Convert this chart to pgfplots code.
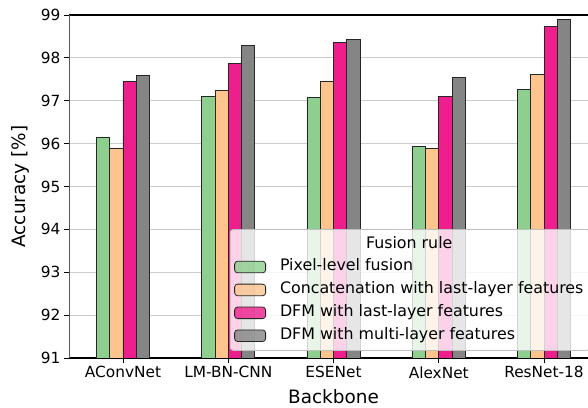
\documentclass[border=0pt]{standalone}
\usepackage{pgfplots}
\usepackage{pgfplotstable}
\pgfplotsset{compat=1.18}
\usepackage{fontspec}
\setmainfont{DejaVu Sans}
\definecolor{cgreen}{RGB}{142,206,142}
\definecolor{corange}{RGB}{253,196,142}
\definecolor{cpink}{RGB}{238,30,140}
\definecolor{cgray}{RGB}{133,133,133}
\definecolor{cgrid}{RGB}{205,205,205}
\pgfplotstableread{
x pixel concat dfmlast dfmmulti
0 96.15 95.88 97.44 97.58
1 97.10 97.23 97.87 98.28
2 97.07 97.44 98.36 98.44
3 95.94 95.88 97.10 97.54
4 97.27 97.62 98.73 98.89
}\datatable
\begin{document}
\begin{tikzpicture}
\begin{axis}[
  name=ax,
  scale only axis,
  width=529bp, height=343bp,
  xmin=-0.513, xmax=4.513,
  ymin=91, ymax=99,
  ytick={91,92,...,99},
  xtick=data,
  xticklabels={AConvNet,LM-BN-CNN,ESENet,AlexNet,ResNet-18},
  xtick pos=bottom, ytick pos=left,
  tick align=outside,
  major tick length=5bp,
  tick style={black, line width=0.8bp},
  separate axis lines,
  x axis line style={black, line width=1.1bp},
  y axis line style={black!65, line width=0.9bp},
  ymajorgrids,
  grid style={cgrid, line width=0.9bp},
  /pgf/number format/assume math mode=true,
  ticklabel style={font=\fontsize{15.4}{18}\selectfont},
  xlabel={Backbone},
  ylabel={Accuracy [\%]},
  label style={font=\fontsize{18.5}{22}\selectfont},
  ylabel style={yshift=5bp},
  xlabel style={yshift=-4bp},
  ybar, bar width=0.126,
  every axis plot/.append style={draw=black!85, line width=0.8bp},
  legend image code/.code={\draw[#1] (0bp,-5.8bp) rectangle (31bp,5.8bp);},
  legend cell align=left,
  legend style={
    at={(axis description cs:0.304,0.376)}, anchor=north west,
    draw=black!25, line width=0.8bp, rounded corners=3bp,
    fill=white, fill opacity=0.8, text opacity=1,
    font=\fontsize{15.9}{19}\selectfont,
    inner xsep=4bp, inner ysep=5bp,
    row sep=3.5bp, column sep=12bp,
    nodes={text height=11.6bp, text depth=3.8bp, inner sep=2bp},
  },
]
\addlegendimage{empty legend}
\addlegendentry{\hspace*{86bp}Fusion rule}
\addplot[fill=cgreen, bar shift=-0.189] table[x=x, y=pixel] {\datatable};
\addlegendentry{Pixel-level fusion}
\addplot[fill=corange, bar shift=-0.063] table[x=x, y=concat] {\datatable};
\addlegendentry{Concatenation with last-layer features}
\addplot[fill=cpink, bar shift=0.063] table[x=x, y=dfmlast] {\datatable};
\addlegendentry{DFM with last-layer features}
\addplot[fill=cgray, bar shift=0.189] table[x=x, y=dfmmulti] {\datatable};
\addlegendentry{DFM with multi-layer features}
\end{axis}
\pgfresetboundingbox
\path[use as bounding box] (ax.south west) ++(-69bp,-50bp) rectangle ++(588bp,408bp);
\end{tikzpicture}
\end{document}
